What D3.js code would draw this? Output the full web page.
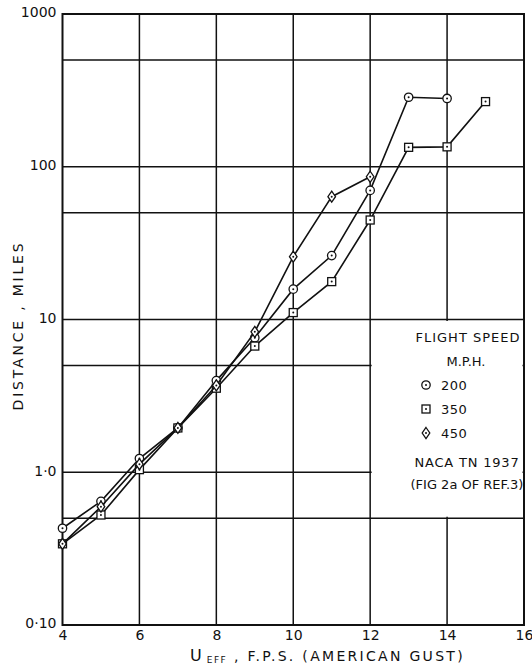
<!DOCTYPE html>
<html>
<head>
<meta charset="utf-8">
<script src="https://cdn.jsdelivr.net/npm/d3@7"></script>
<style>
  html, body { margin: 0; padding: 0; background: #fff; }
  svg { display: block; }
  text { font-family: "DejaVu Sans", "Liberation Sans", sans-serif; fill: #111; }
</style>
</head>
<body>
<svg id="chart" width="532" height="666"></svg>
<script>
// Gust velocity (ft/s) against mean distance flown, per flight speed
const gustVelocity = [4, 5, 6, 7, 8, 9, 10, 11, 12, 13, 14, 15];
const speed200 = [0.43, 0.645, 1.23, 1.95, 3.98, 7.6, 15.8, 26.2, 70, 285, 280, null];
const speed350 = [0.34, 0.525, 1.04, 1.95, 3.55, 6.7, 11.1, 17.7, 44.8, 134, 135, 267];
const speed450 = [0.34, 0.595, 1.13, 1.95, 3.7, 8.3, 25.8, 63.7, 86, null, null, null];

const xTicks = [4, 6, 8, 10, 12, 14, 16];
const yTicks = [0.1, 1, 10, 100, 1000];
const yTickLabels = ["0·10", "1·0", "10", "100", "1000"];
const xGrid = [6, 8, 10, 12, 14];
const yGrid = [0.5, 1, 5, 10, 50, 100, 500];

const svg = d3.select("#chart");
const x = d3.scaleLinear().domain([4, 16]).range([62.5, 524]);
const y = d3.scaleLog().domain([0.1, 1000]).range([625, 14]);

// grid
const grid = svg.append("g").attr("stroke", "#111").attr("stroke-width", 1.5);
grid.selectAll("line.v").data(xGrid).join("line")
  .attr("x1", d => x(d)).attr("x2", d => x(d))
  .attr("y1", y(1000)).attr("y2", y(0.1));
grid.selectAll("line.h").data(yGrid).join("line")
  .attr("x1", x(4)).attr("x2", x(16))
  .attr("y1", d => y(d)).attr("y2", d => y(d));

// legend panel clears the grid cells it sits in
svg.append("rect")
  .attr("x", x(12) + 1.5).attr("y", y(10) + 1.5)
  .attr("width", x(16) - x(12) - 3).attr("height", y(0.5) - y(10) - 3)
  .attr("fill", "#fff");

// frame
svg.append("rect")
  .attr("x", x(4)).attr("y", y(1000))
  .attr("width", x(16) - x(4)).attr("height", y(0.1) - y(1000))
  .attr("fill", "none").attr("stroke", "#111").attr("stroke-width", 2);

// axes
const yAxis = svg.append("g").attr("transform", `translate(${x(4)},0)`)
  .call(d3.axisLeft(y).tickValues(yTicks).tickSize(0).tickPadding(6)
    .tickFormat((d, i) => yTickLabels[i]));
yAxis.select(".domain").remove();
yAxis.selectAll("text").style("font-size", "14px").attr("dy", "0.2em");

const xAxis = svg.append("g").attr("transform", `translate(0,${y(0.1)})`)
  .call(d3.axisBottom(x).tickValues(xTicks).tickSize(0).tickPadding(5)
    .tickFormat(d3.format("d")));
xAxis.select(".domain").remove();
xAxis.selectAll("text").style("font-size", "14px");

// axis titles
svg.append("text")
  .attr("transform", `translate(23,${(y(1000) + y(0.1)) / 2 + 6}) rotate(-90)`)
  .attr("text-anchor", "middle")
  .style("font-size", "14px").style("letter-spacing", "2.8px")
  .text("DISTANCE , MILES");

const xt = svg.append("text").attr("x", 190).attr("y", 661).style("font-size", "14px");
xt.append("tspan").style("font-size", "16px").text("U");
xt.append("tspan").attr("dx", 5).attr("dy", 2).style("font-size", "9px").style("letter-spacing", "1.5px").text("EFF");
xt.append("tspan").attr("dy", -2).style("letter-spacing", "2.3px").text(" ,  F.P.S. (AMERICAN GUST)");

// series
const series = [
  { name: "200", values: speed200, shape: "circle" },
  { name: "350", values: speed350, shape: "square" },
  { name: "450", values: speed450, shape: "diamond" }
];

const line = d3.line()
  .defined(d => d.v != null)
  .x(d => x(d.g)).y(d => y(d.v));

function drawMarker(g, shape) {
  if (shape === "circle") {
    g.append("circle").attr("r", 4.2);
  } else if (shape === "square") {
    g.append("rect").attr("x", -4).attr("y", -4).attr("width", 8).attr("height", 8);
  } else {
    g.append("path").attr("d", "M0,-5.5L3.8,0L0,5.5L-3.8,0Z");
  }
  g.selectAll("circle, rect, path").attr("fill", "#fff").attr("stroke", "#111").attr("stroke-width", 1.3);
  g.append("circle").attr("r", 1).attr("fill", "#111");
}

series.forEach(s => {
  const pts = gustVelocity.map((g, i) => ({ g, v: s.values[i] }));
  svg.append("path").datum(pts)
    .attr("d", line).attr("fill", "none")
    .attr("stroke", "#111").attr("stroke-width", 1.6);
  pts.filter(d => d.v != null).forEach(d => {
    const m = svg.append("g").attr("transform", `translate(${x(d.g)},${y(d.v)})`);
    drawMarker(m, s.shape);
  });
});

// legend
const lg = svg.append("g");
lg.append("text").attr("x", 468).attr("y", 342).attr("text-anchor", "middle")
  .style("font-size", "13px").style("letter-spacing", "1px").text("FLIGHT SPEED");
lg.append("text").attr("x", 466).attr("y", 366).attr("text-anchor", "middle")
  .style("font-size", "13px").text("M.P.H.");
series.forEach((s, i) => {
  const yy = 385 + i * 24;
  const m = lg.append("g").attr("transform", `translate(426,${yy})`);
  drawMarker(m, s.shape);
  lg.append("text").attr("x", 441).attr("y", yy + 5)
    .style("font-size", "13px").style("letter-spacing", "0.5px").text(s.name);
});
lg.append("text").attr("x", 467).attr("y", 467).attr("text-anchor", "middle")
  .style("font-size", "13px").style("letter-spacing", "0.8px").text("NACA TN 1937");
lg.append("text").attr("x", 467).attr("y", 489).attr("text-anchor", "middle")
  .style("font-size", "13px").text("(FIG 2a OF REF.3)");
</script>
</body>
</html>
